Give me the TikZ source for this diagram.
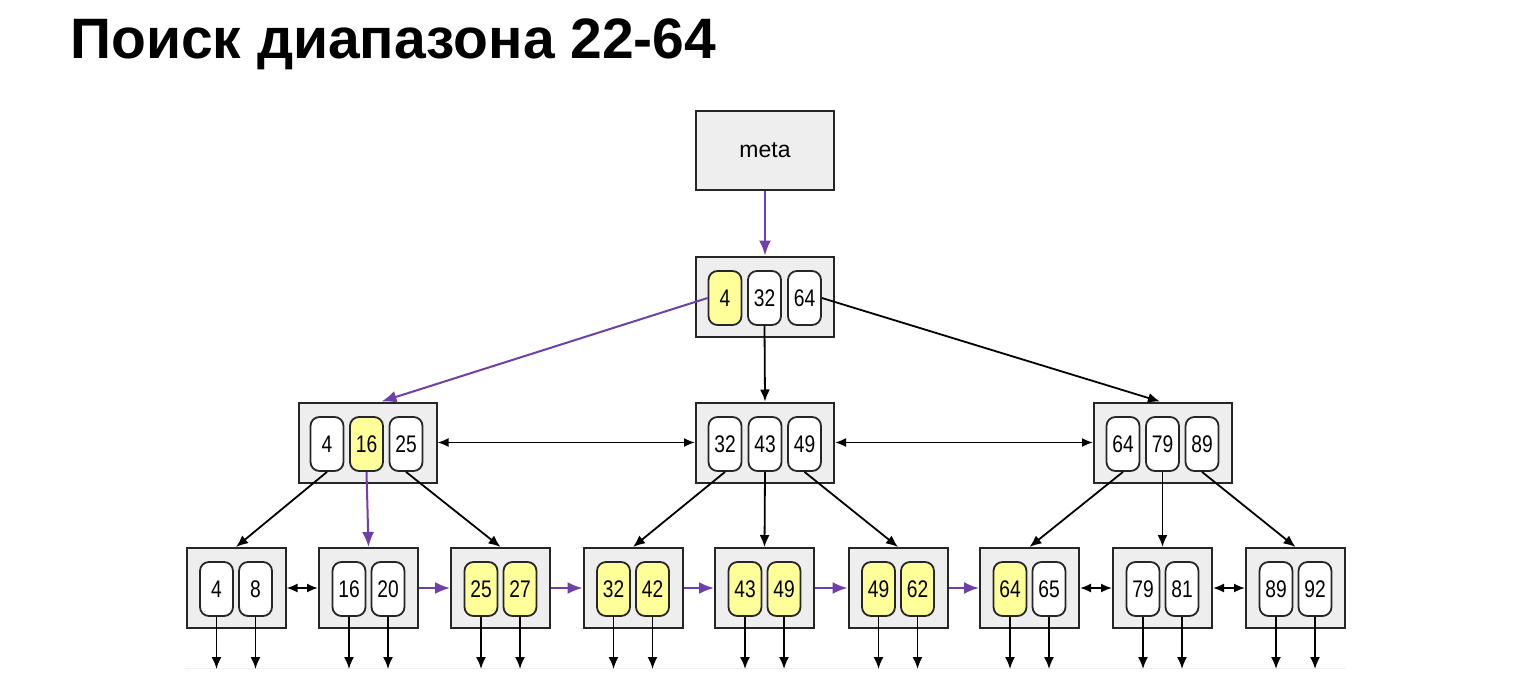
\documentclass[tikz,border=0pt]{standalone}
\usepackage{fontspec}
\setmainfont{Liberation Sans}
\newfontfamily\keyfont[FakeStretch=0.8]{Liberation Sans}
\usetikzlibrary{arrows.meta}
\definecolor{boxgray}{RGB}{238,238,238}
\definecolor{hlyellow}{RGB}{255,255,153}
\definecolor{pathpurple}{RGB}{112,64,170}
\tikzset{
  box/.style={draw=black!85, fill=boxgray, line width=2pt, inner sep=0pt},
  inner/.style={box, minimum width=138pt, minimum height=80pt},
  leaf/.style={box, minimum width=99pt, minimum height=80pt},
  key/.style={draw=black!85, fill=white, rounded corners=9pt, line width=1.8pt, inner sep=0pt,
    minimum width=33pt, minimum height=54pt, font=\keyfont\fontsize{24}{26}\selectfont},
  hl/.style={key, fill=hlyellow},
  conn/.style={line width=1.8pt, -{Latex[length=12pt,width=10pt]}},
  dconn/.style={line width=1.8pt, {Latex[length=11pt,width=9pt]}-{Latex[length=11pt,width=9pt]}},
  pconn/.style={line width=2pt, draw=pathpurple, color=pathpurple, -{Latex[length=15pt,width=12pt]}},
}
\begin{document}
\begin{tikzpicture}[x=1pt,y=-1pt]
\useasboundingbox (0,0) rectangle (1536,681);
\node[anchor=base west, inner sep=0pt, font=\fontsize{57}{64}\selectfont\bfseries] (title) at (70,58) {Поиск диапазона 22-64};

% meta
\node[box, minimum width=138pt, minimum height=79pt, font=\fontsize{23}{26}\selectfont] (meta) at (765,150.5) {meta};

% root
\node[inner] (root) at (765,296.5) {};
\node[hl]  (r4)  at (725,298) {4};
\node[key] (r32) at (764.5,298) {32};
\node[key] (r64) at (804.5,298) {64};

% level 2
\node[inner] (A) at (367.5,442.5) {};
\node[key] (A4)  at (327,444) {4};
\node[hl]  (A16) at (366.5,444) {16};
\node[key] (A25) at (406,444) {25};

\node[inner] (B) at (765,442.5) {};
\node[key] (B32) at (725,444) {32};
\node[key] (B43) at (765,444) {43};
\node[key] (B49) at (804.5,444) {49};

\node[inner] (C) at (1163,442.5) {};
\node[key] (C64) at (1123,444) {64};
\node[key] (C79) at (1162.5,444) {79};
\node[key] (C89) at (1202,444) {89};

% leaves
\coordinate (bottom) at (0,669);
\draw[gray!12, line width=0.8pt] (185,668) -- (1346,668);
\foreach \n/\cx/\a/\b/\sa/\sb in {1/236/4/8/key/key, 2/368.5/16/20/key/key, 3/500.5/25/27/hl/hl,
  4/633/32/42/hl/hl, 5/764.5/43/49/hl/hl, 6/898/49/62/hl/hl, 7/1029.5/64/65/hl/key,
  8/1162.5/79/81/key/key, 9/1295.5/89/92/key/key}{
  \node[leaf] (L\n) at (\cx,588) {};
  \node[\sa] (L\n a) at (\cx-19.5,589) {\a};
  \node[\sb] (L\n b) at (\cx+19.5,589) {\b};
  \draw[conn] (L\n a.south) -- (L\n a.south |- bottom);
  \draw[conn] (L\n b.south) -- (L\n b.south |- bottom);
}

% connectors
\draw[pconn] (meta.south) -- (root.north);
\draw[pconn] (r4.west) -- ([xshift=14pt]A.north);
\draw[conn] (r32.south) -- (B.north);
\draw[conn] (r64.east) -- ([xshift=-3pt]C.north);
\draw[dconn] (A.east) -- (B.west);
\draw[dconn] (B.east) -- (C.west);

\draw[conn] (A4.south) -- (L1.north);
\draw[pconn] (A16.south) -- (L2.north);
\draw[conn] (A25.south) -- (L3.north);
\draw[conn] (B32.south) -- (L4.north);
\draw[conn] (B43.south) -- (L5.north);
\draw[conn] (B49.south) -- (L6.north);
\draw[conn] (C64.south) -- (L7.north);
\draw[conn] (C79.south) -- (L8.north);
\draw[conn] (C89.south) -- (L9.north);

\draw[dconn] (L1.east) -- (L2.west);
\draw[pconn] (L2.east) -- (L3.west);
\draw[pconn] (L3.east) -- (L4.west);
\draw[pconn] (L4.east) -- (L5.west);
\draw[pconn] (L5.east) -- (L6.west);
\draw[pconn] (L6.east) -- (L7.west);
\draw[dconn] (L7.east) -- (L8.west);
\draw[dconn] (L8.east) -- (L9.west);
\end{tikzpicture}
\end{document}
